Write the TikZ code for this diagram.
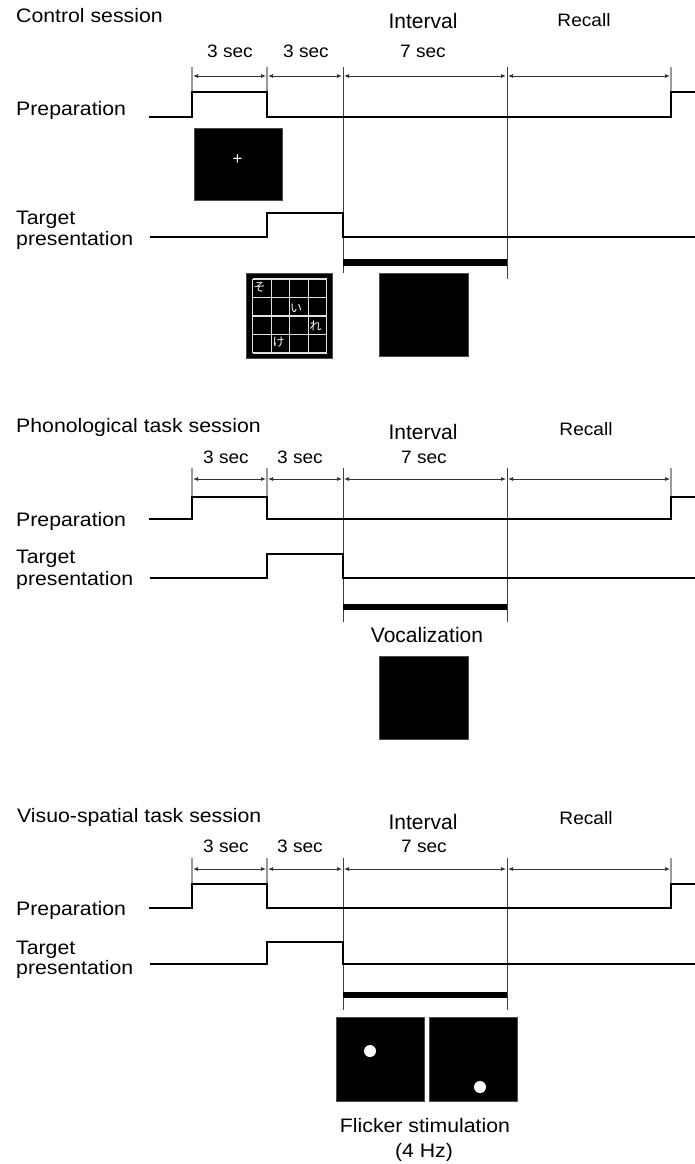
\documentclass[tikz,border=0pt]{standalone}
\usepackage{fontspec}
\setmainfont{Liberation Sans}
\newfontfamily\lblfam[FakeStretch=1.09]{Liberation Sans}
\newfontfamily\smfam[FakeStretch=1.06]{Liberation Sans}
\newfontfamily\cjkfam{Noto Sans CJK JP}
\usetikzlibrary{arrows.meta}
\tikzset{
  sig/.style={line width=2.8pt, black, line join=miter},
  tickln/.style={line width=1.3pt, black!40},
  vln/.style={line width=1pt, black!75},
  dimln/.style={line width=0.8pt, black!80, {Latex[length=5pt,width=4pt]}-{Latex[length=5pt,width=4pt]}},
  barln/.style={line width=6.6pt, black},
  lbl/.style={inner sep=0pt, font=\lblfam\fontsize{19.5}{23}\selectfont},
  big/.style={inner sep=0pt, font=\fontsize{21}{25}\selectfont},
  sm/.style={inner sep=0pt, font=\smfam\fontsize{18}{21}\selectfont},
  jp/.style={inner sep=0pt, text=white, font=\cjkfam\fontsize{12}{14}\selectfont},
  blk/.style={fill=black, draw=black!70, line width=0.6pt}
}
% #1 tick top, #2 arrow y, #3 prep high, #4 prep low, #5 target high,
% #6 target low, #7 bar y, #8 bottom of line at 343, #9 bottom of line at 507
\newcommand\timingrow[9]{%
  \draw[tickln] (192,#1) -- (192,#3);
  \draw[tickln] (267,#1) -- (267,#3);
  \draw[tickln] (671,#1) -- (671,#3);
  \draw[vln] (343,#1) -- (343,#8);
  \draw[vln] (507,#1) -- (507,#9);
  \draw[dimln] (193,#2) -- (266,#2);
  \draw[dimln] (268,#2) -- (342,#2);
  \draw[dimln] (344,#2) -- (506,#2);
  \draw[dimln] (508,#2) -- (670,#2);
  \draw[sig] (149,#4) -- (192,#4) -- (192,#3) -- (267,#3) -- (267,#4) -- (671,#4) -- (671,#3) -- (696,#3);
  \draw[sig] (150,#6) -- (267,#6) -- (267,#5) -- (343,#5) -- (343,#6) -- (696,#6);
  \draw[barln] (343,#7) -- (507,#7);
}
\begin{document}
\begin{tikzpicture}[x=1pt,y=-1pt]
\useasboundingbox[fill=white] (0,0) rectangle (694,1164);

% ---------------- Control session ----------------
\node[lbl, anchor=base west] (t1) at (16,23) {Control session};
\node[big, anchor=base] (int1) at (423,29) {Interval};
\node[sm, anchor=base] (rec1) at (584,27) {Recall};
\node[sm, anchor=base] (a1) at (230,58) {3 sec};
\node[sm, anchor=base] (b1) at (306,58) {3 sec};
\node[sm, anchor=base] (c1) at (423,58) {7 sec};
\node[lbl, anchor=base west] (p1) at (16,115) {Preparation};
\node[lbl, anchor=base west] (tg1) at (16,224) {Target};
\node[lbl, anchor=base west] (pr1) at (16,245) {presentation};
\timingrow{67}{76}{92}{117}{213}{237}{262.5}{273}{279}

\fill[blk] (194,128) rectangle (282,200);
\node[inner sep=0pt, text=white, font=\fontsize{17}{20}\selectfont] (fix) at (237.5,159.5) {+};

% grid stimulus
\fill[blk] (246,273) rectangle (332,358);
\foreach \i in {0,...,4} {
  \draw[line width=1.1pt, black!12] ({252.5+\i*18.6},279) -- ({252.5+\i*18.6},353);
  \draw[line width=1.1pt, black!12] (252.5,{279+\i*18.5}) -- (326.9,{279+\i*18.5});
}
\node[jp] (k1) at (259.5,287.5) {そ};
\node[jp] (k2) at (296,308) {い};
\node[jp] (k3) at (315.5,326) {れ};
\node[jp] (k4) at (278.5,342) {け};
\fill[blk] (379,273) rectangle (468,356);

% ---------------- Phonological task session ----------------
\node[lbl, anchor=base west] (t2) at (16,432) {Phonological task session};
\node[big, anchor=base] (int2) at (423,439) {Interval};
\node[sm, anchor=base] (rec2) at (586,435) {Recall};
\node[sm, anchor=base] (a2) at (226,463) {3 sec};
\node[sm, anchor=base] (b2) at (300,463) {3 sec};
\node[sm, anchor=base] (c2) at (424,463) {7 sec};
\node[lbl, anchor=base west] (p2) at (16,526) {Preparation};
\node[lbl, anchor=base west] (tg2) at (16,563) {Target};
\node[lbl, anchor=base west] (pr2) at (16,585) {presentation};
\timingrow{468}{479}{497}{519}{554}{578}{607}{622}{622}
\node[big, anchor=base] (voc) at (427,642) {Vocalization};
\fill[blk] (379,656) rectangle (468,739);

% ---------------- Visuo-spatial task session ----------------
\node[lbl, anchor=base west] (t3) at (17,822) {Visuo-spatial task session};
\node[big, anchor=base] (int3) at (423,829) {Interval};
\node[sm, anchor=base] (rec3) at (586,824) {Recall};
\node[sm, anchor=base] (a3) at (226,852) {3 sec};
\node[sm, anchor=base] (b3) at (300,852) {3 sec};
\node[sm, anchor=base] (c3) at (424,852) {7 sec};
\node[lbl, anchor=base west] (p3) at (16,915) {Preparation};
\node[lbl, anchor=base west] (tg3) at (16,954) {Target};
\node[lbl, anchor=base west] (pr3) at (16,974) {presentation};
\timingrow{858}{869}{884}{908}{942}{964}{995}{1010}{1010}
\fill[blk] (336,1017) rectangle (424,1101);
\fill[blk] (429,1017) rectangle (517,1101);
\fill[white] (370,1051) circle (6);
\fill[white] (480,1087) circle (6);
\node[lbl, anchor=base] (fl) at (425,1132) {Flicker stimulation};
\node[lbl, anchor=base] (hz) at (424,1157) {(4 Hz)};
\end{tikzpicture}
\end{document}
